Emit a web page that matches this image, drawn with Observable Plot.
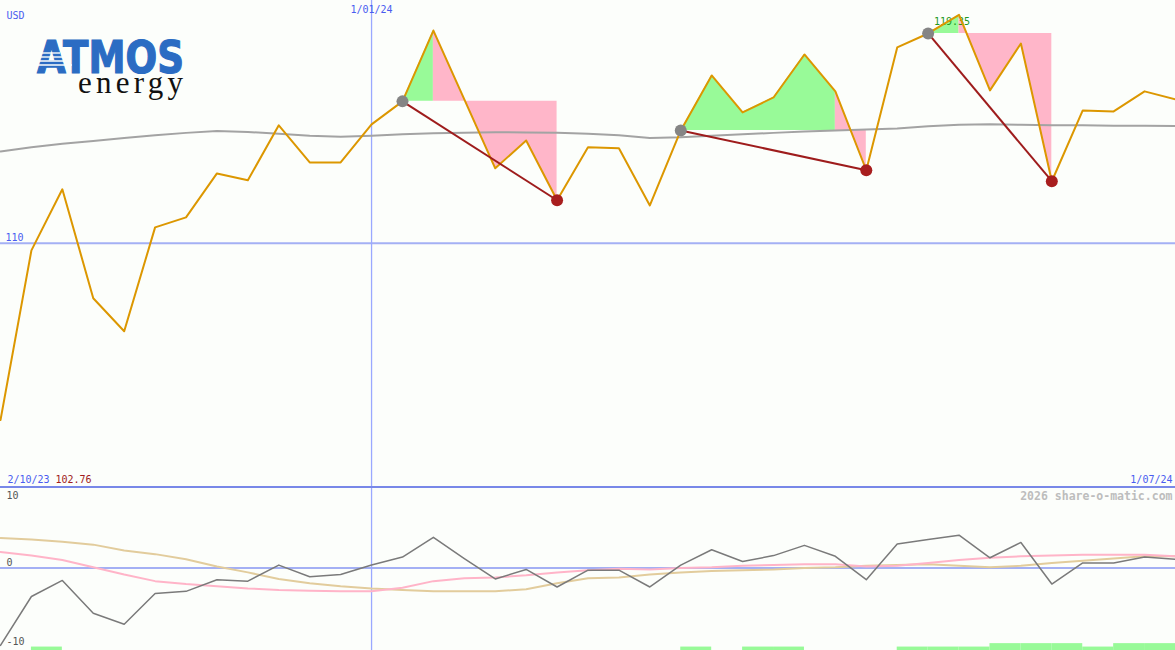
<!DOCTYPE html>
<html><head><meta charset="utf-8">
<script src="https://cdn.jsdelivr.net/npm/d3@7"></script>
<script src="https://cdn.jsdelivr.net/npm/@observablehq/plot@0.6"></script>
<style>
html,body{margin:0;padding:0;background:#fcfefb;}
#wrap{position:relative;width:1175px;height:650px;overflow:hidden;background:#fcfefb;}
#main{position:absolute;left:0;top:0;}
#sep{position:absolute;left:0;top:486px;width:1175px;height:2px;background:#7888e8;}
#lower{position:absolute;left:0;top:488px;}
#logo{position:absolute;left:20px;top:20px;}
</style></head>
<body><div id="wrap"><div id="main"></div><div id="sep"></div><div id="lower"></div>
<svg id="logo" width="190" height="100">
 <text x="17" y="53" font-family="DejaVu Sans, Liberation Sans, sans-serif" font-weight="bold" font-size="44" fill="#2b6cc3" stroke="#2b6cc3" stroke-width="1.2" textLength="147" lengthAdjust="spacingAndGlyphs">ATMOS</text>
 <g stroke="#fcfefb" stroke-width="1.4">
  <line x1="14" y1="33" x2="40" y2="33"/><line x1="14" y1="37" x2="46" y2="37"/>
  <line x1="14" y1="41" x2="50" y2="41"/><line x1="14" y1="45" x2="52" y2="45"/>
 </g>
 <text x="58" y="73" font-family="Liberation Serif, 'Times New Roman', serif" font-size="31" fill="#111" textLength="105" lengthAdjust="spacing">energy</text>
</svg>
</div>
<script>
// ---- data ----
const dateStrings = ["2023-10-09","2023-10-16","2023-10-23","2023-10-30","2023-11-06","2023-11-13","2023-11-20","2023-11-27",
 "2023-12-04","2023-12-11","2023-12-18","2023-12-25","2024-01-01","2024-01-08","2024-01-15","2024-01-22","2024-01-29",
 "2024-02-05","2024-02-12","2024-02-19","2024-02-26","2024-03-04","2024-03-11","2024-03-18","2024-03-25","2024-04-01",
 "2024-04-08","2024-04-15","2024-04-22","2024-04-29","2024-05-06","2024-05-13","2024-05-20","2024-05-27","2024-06-03",
 "2024-06-10","2024-06-17","2024-06-24","2024-07-01"];
const price = [102.76,109.71,112.21,107.75,106.40,110.65,111.06,112.86,112.58,114.83,113.31,113.31,114.87,115.81,118.71,115.89,
 113.07,114.21,111.76,113.93,113.89,111.55,114.62,116.87,115.36,115.97,117.73,116.22,112.99,118.02,118.59,119.35,116.26,118.18,
 112.54,115.44,115.40,116.22,115.89];
const movingAvg = [113.76,113.93,114.07,114.19,114.31,114.42,114.52,114.60,114.56,114.48,114.40,114.36,114.40,114.46,114.50,114.52,
 114.55,114.54,114.52,114.48,114.42,114.31,114.34,114.40,114.46,114.52,114.58,114.62,114.66,114.70,114.79,114.85,114.87,114.85,
 114.83,114.83,114.81,114.81,114.80];
const momentum = [-10.6,-3.9,-1.7,-6.2,-7.7,-3.5,-3.2,-1.6,-1.8,0.4,-1.2,-0.9,0.4,1.5,4.2,1.3,-1.5,-0.2,-2.6,-0.3,-0.3,-2.6,0.4,2.5,
 0.9,1.7,3.1,1.6,-1.6,3.3,3.9,4.5,1.4,3.5,-2.2,0.7,0.7,1.5,1.2];
const pinkSignal = [2.2,1.7,1.1,0.1,-0.9,-1.8,-2.2,-2.5,-2.8,-3.0,-3.1,-3.2,-3.2,-2.7,-1.8,-1.4,-1.3,-1.0,-0.6,-0.3,-0.1,-0.2,0.0,
 0.1,0.3,0.4,0.5,0.5,0.2,0.3,0.7,1.1,1.4,1.6,1.7,1.8,1.8,1.8,1.6];
const tanSignal = [4.1,3.9,3.6,3.2,2.4,1.9,1.2,0.2,-0.6,-1.5,-2.1,-2.5,-2.8,-3.0,-3.2,-3.2,-3.2,-2.9,-2.1,-1.4,-1.3,-0.9,-0.6,
 -0.4,-0.3,-0.2,0.0,0.1,0.3,0.4,0.5,0.3,0.1,0.3,0.7,1.0,1.3,1.6,1.6];
const strength = [0,1,0,0,0,0,0,0,0,0,0,0,0,0,0,0,0,0,0,0,0,0,1,0,1,1,0,0,0,1,1,1,2,2,2,1,2,2,0];
const signals = [{start:13, split:14, end:18},{start:22, split:27, end:28},{start:30, split:31, end:34}];
const tickLabels = {left:"2/10/23", mid:"1/01/24", right:"1/07/24"};
const midTickDate = "2024-01-01";
const priceTicks = [110];
const lowerTicksEdge = [10, -10];
const lowerTicksZero = [0];
const currency = "USD";
const credit = "2026 share-o-matic.com";

// ---- build ----
const dates = dateStrings.map(s => new Date(s + "T00:00:00Z"));
const rows = dates.map((d,i) => ({date:d, next: dates[i+1] || d, price:price[i], ma:movingAvg[i],
  mom:momentum[i], pink:pinkSignal[i], tan:tanSignal[i], s:strength[i]}));
const midDate = new Date(midTickDate + "T00:00:00Z");
const X = {type:"utc", domain:[dates[0], dates[dates.length-1]], range:[0,1175], axis:null};
const font = "DejaVu Sans Mono, monospace";
const peakIdx = price.indexOf(d3.max(price));

const areaMarks = [];
for (const s of signals) {
  const base = price[s.start];
  areaMarks.push(Plot.areaY(rows.slice(s.start, s.split+1), {x:"date", y1:() => base, y2:"price", fill:"#98fa98"}));
  areaMarks.push(Plot.areaY(rows.slice(s.split, s.end+1), {x:"date", y1:() => base, y2:"price", fill:"#ffb6c9"}));
}
const links = signals.map(s => ({x1:dates[s.start], y1:price[s.start], x2:dates[s.end], y2:price[s.end]}));

const main = Plot.plot({
  width:1175, height:487, marginLeft:0, marginRight:0, marginTop:0, marginBottom:0,
  x:X, y:{domain:[100,119.94], range:[487,0], axis:null},
  style:{background:"transparent", overflow:"visible", fontFamily:font},
  marks:[
    Plot.ruleY(priceTicks, {stroke:"#a4b0f4", strokeWidth:2}),
    Plot.ruleX([midDate], {stroke:"#9aa8ff", strokeWidth:1.3}),
    ...areaMarks,
    Plot.lineY(rows, {x:"date", y:"ma", stroke:"#a3a3a3", strokeWidth:2}),
    Plot.text([rows[peakIdx]], {x:"date", y:"price", text:d => d.price.toFixed(2), dx:-7, dy:7, fill:"#229922", fontSize:10, fontFamily:font}),
    Plot.lineY(rows, {x:"date", y:"price", stroke:"#dc9700", strokeWidth:2}),
    Plot.link(links, {x1:"x1", y1:"y1", x2:"x2", y2:"y2", stroke:"#9e1c1c", strokeWidth:2}),
    Plot.dot(signals.map(s => rows[s.start]), {x:"date", y:"price", r:6, fill:"#858585"}),
    Plot.dot(signals.map(s => rows[s.end]), {x:"date", y:"price", r:6, fill:"#a81e1e"}),
    Plot.text(priceTicks, {x:() => dates[0], y:d => d, text:d => String(d), dx:5, dy:-5, textAnchor:"start", fill:"#4a5cf0", fontSize:10, fontFamily:font}),
    Plot.text([currency], {frameAnchor:"top-left", dx:6, dy:15, text:d => d, fill:"#4a5cf0", fontSize:10, fontFamily:font, lineAnchor:"middle"}),
    Plot.text([midDate], {x:d => d, frameAnchor:"top", dy:9, lineAnchor:"middle", text:() => tickLabels.mid, fill:"#4a5cf0", fontSize:10, fontFamily:font}),
    Plot.text([tickLabels.left], {frameAnchor:"bottom-left", dx:7, dy:-8, lineAnchor:"middle", textAnchor:"start", text:d => d, fill:"#4a5cf0", fontSize:10, fontFamily:font}),
    Plot.text([price[0]], {frameAnchor:"bottom-left", dx:55, dy:-8, lineAnchor:"middle", textAnchor:"start", text:d => d.toFixed(2), fill:"#a01c1c", fontSize:10, fontFamily:font}),
    Plot.text([tickLabels.right], {frameAnchor:"bottom-right", dx:-3, dy:-8, lineAnchor:"middle", textAnchor:"end", text:d => d, fill:"#4a5cf0", fontSize:10, fontFamily:font})
  ]
});
document.getElementById("main").appendChild(main);

const yLow = -11.3;
const lower = Plot.plot({
  width:1175, height:162, marginLeft:0, marginRight:0, marginTop:0, marginBottom:0,
  x:X, y:{domain:[yLow,10.89], range:[162,0], axis:null},
  style:{background:"transparent", overflow:"visible", fontFamily:font},
  marks:[
    Plot.rect(rows.filter(d => d.s > 0), {x1:"date", x2:"next", y1:() => yLow, y2:d => yLow + d.s*0.47, fill:"#98fa98"}),
    Plot.ruleY(lowerTicksZero, {stroke:"#a4b0f4", strokeWidth:2}),
    Plot.ruleX([midDate], {stroke:"#9aa8ff", strokeWidth:1.3}),
    Plot.lineY(rows, {x:"date", y:"tan", stroke:"#e2cc9c", strokeWidth:2}),
    Plot.lineY(rows, {x:"date", y:"pink", stroke:"#ffb4c8", strokeWidth:2}),
    Plot.lineY(rows, {x:"date", y:"mom", stroke:"#7a7a7a", strokeWidth:1.5}),
    Plot.text(lowerTicksEdge, {x:() => dates[0], y:d => d, text:d => String(d), dx:6, dy:1, textAnchor:"start", fill:"#555", fontSize:10, fontFamily:font}),
    Plot.text(lowerTicksZero, {x:() => dates[0], y:d => d, text:d => String(d), dx:6, dy:-5, textAnchor:"start", fill:"#555", fontSize:10, fontFamily:font}),
    Plot.text([credit], {frameAnchor:"top-right", dx:-3, dy:8, lineAnchor:"middle", textAnchor:"end", text:d => d, fill:"#bdbdbd", fontWeight:"bold", fontSize:11.5, fontFamily:font})
  ]
});
document.getElementById("lower").appendChild(lower);
</script></body></html>
